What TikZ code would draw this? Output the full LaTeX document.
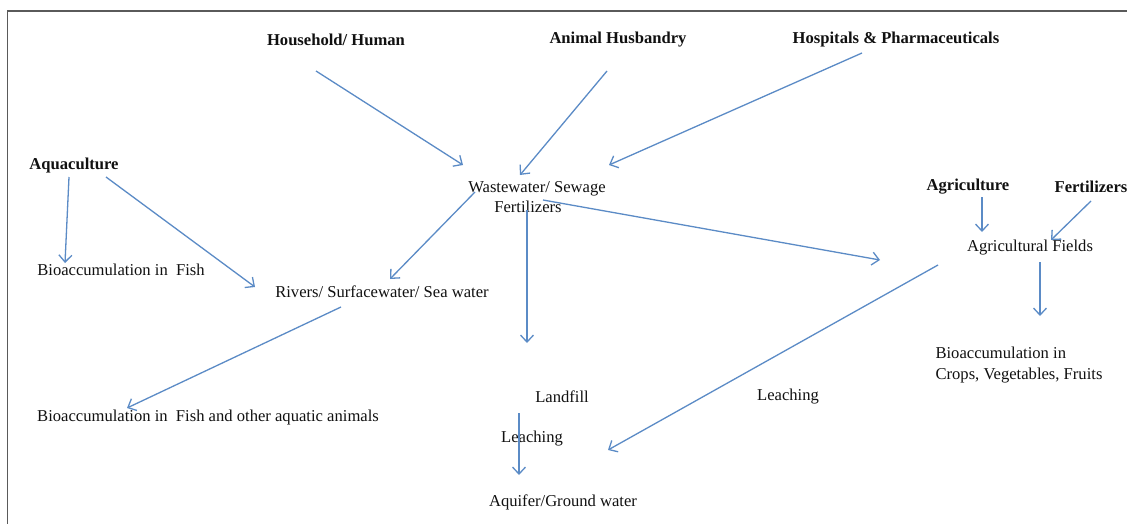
\documentclass[tikz,border=0pt]{standalone}
\usepackage{fontspec}
\setmainfont{Liberation Serif}
\usetikzlibrary{arrows.meta}
\definecolor{arrowblue}{HTML}{5B8BC6}
\definecolor{txt}{HTML}{111111}
\definecolor{frame}{HTML}{5A5A5A}
\tikzset{
  lbl/.style={inner sep=0pt, text=txt, font=\fontsize{16.6}{20.5}\selectfont},
  blbl/.style={lbl, font=\fontsize{16.6}{20.5}\selectfont\bfseries},
  arr/.style={draw=arrowblue, line width=1.3pt, -{Straight Barb[length=7pt,width=13pt,line width=1.3pt]}}
}
\begin{document}
\begin{tikzpicture}[x=1pt,y=-1pt]
\useasboundingbox (0,0) rectangle (1127,524);
\fill[white] (0,0) rectangle (1127,524);
% frame (left and top edges)
\draw[frame, line width=1.5pt] (7.5,524) -- (7.5,11) -- (1127,11);

% text nodes
\node[blbl] (hh) at (336,40) {Household/ Human};
\node[blbl] (ah) at (618,40) {Animal Husbandry};
\node[blbl] (hp) at (896,40) {Hospitals \& Pharmaceuticals};
\node[blbl] (aq) at (74,166) {Aquaculture};
\node[lbl, align=center] (ww) at (537,197) {Wastewater/ Sewage\\Fertilizers\hspace*{18pt}};
\node[blbl] (ag) at (968,187) {Agriculture};
\node[blbl] (fe) at (1091,187) {Fertilizers};
\node[lbl] (af) at (1030,248) {Agricultural Fields};
\node[lbl] (bf) at (121,270) {Bioaccumulation in\ \ Fish};
\node[lbl] (rv) at (382,292) {Rivers/ Surfacewater/ Sea water};
\node[lbl] (ba) at (208,418) {Bioaccumulation in\ \ Fish and other aquatic animals};
\node[lbl] (lf) at (562,397) {Landfill};
\node[lbl] (le1) at (532,439) {Leaching};
\node[lbl] (le2) at (788,397) {Leaching};
\node[lbl] (gw) at (563,502) {Aquifer/Ground water};
\node[lbl, align=left] (bc) at (1019,365) {Bioaccumulation in\\Crops, Vegetables, Fruits};

% connector end points
\coordinate (hh-o) at (316,71);   \coordinate (ww-i1) at (463,165);
\coordinate (ah-o) at (607,71);   \coordinate (ww-i2) at (520,175);
\coordinate (hp-o) at (862,53);   \coordinate (ww-i3) at (609,165);
\coordinate (aq-o1) at (69,177);  \coordinate (bf-i) at (65,263);
\coordinate (aq-o2) at (106,177); \coordinate (rv-i1) at (255,287);
\coordinate (ww-o1) at (475,192); \coordinate (rv-i2) at (390,279);
\coordinate (ww-o2) at (527,210); \coordinate (lf-i) at (527,343);
\coordinate (ww-o3) at (543,200); \coordinate (af-i1) at (880,260);
\coordinate (ag-o) at (982,197);  \coordinate (af-i2) at (982,232);
\coordinate (fe-o) at (1091,201); \coordinate (af-i3) at (1051,240);
\coordinate (af-o1) at (1040,262); \coordinate (bc-i) at (1040,316);
\coordinate (af-o2) at (938,265); \coordinate (gw-i1) at (608,450);
\coordinate (rv-o) at (341,307);  \coordinate (ba-i) at (127,408);
\coordinate (lf-o) at (519,413);  \coordinate (gw-i2) at (519,475);

% connectors
\draw[arr] (hh-o) -- (ww-i1);
\draw[arr] (ah-o) -- (ww-i2);
\draw[arr] (hp-o) -- (ww-i3);
\draw[arr] (aq-o1) -- (bf-i);
\draw[arr] (aq-o2) -- (rv-i1);
\draw[arr] (ww-o1) -- (rv-i2);
\draw[arr] (ww-o2) -- (lf-i);
\draw[arr] (ww-o3) -- (af-i1);
\draw[arr] (ag-o) -- (af-i2);
\draw[arr] (fe-o) -- (af-i3);
\draw[arr] (af-o1) -- (bc-i);
\draw[arr] (af-o2) -- (gw-i1);
\draw[arr] (rv-o) -- (ba-i);
\draw[arr] (lf-o) -- (gw-i2);
\end{tikzpicture}
\end{document}
